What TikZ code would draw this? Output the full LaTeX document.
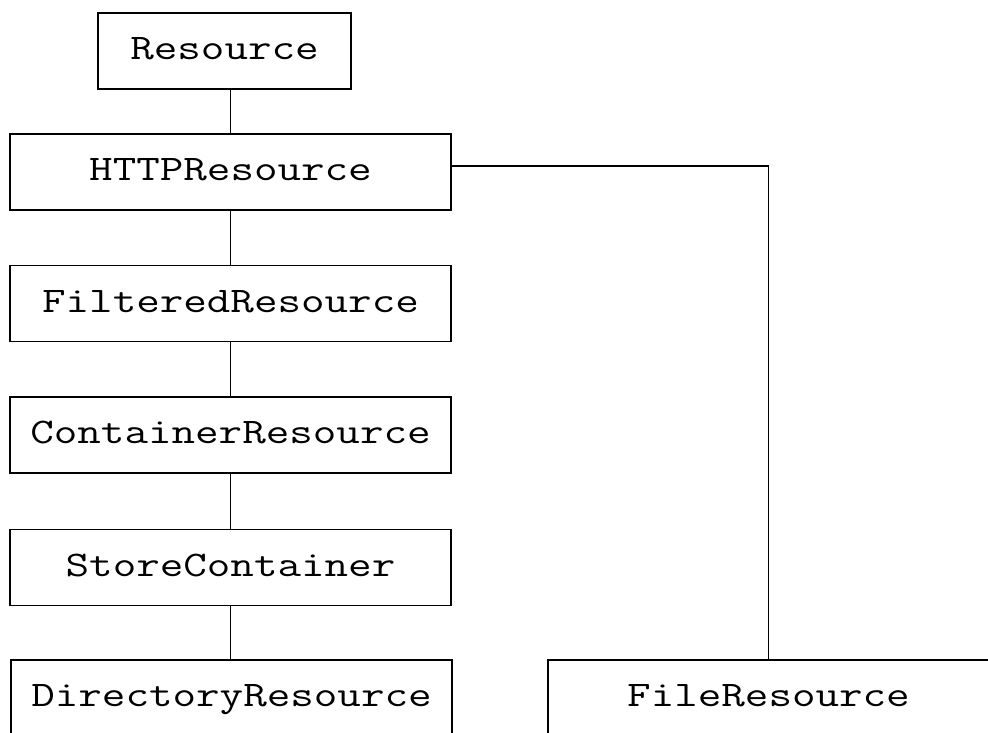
\documentclass[tikz,border=0pt]{standalone}
\usepackage{fontspec}
\usepackage{graphicx}
% widened typewriter class names
\newcommand{\clsname}[1]{\scalebox{1.27}[1]{#1}}
\begin{document}
\begin{tikzpicture}[x=1pt,y=-1pt,
  classbox/.style={draw=black, line width=1.4pt, inner sep=0pt,
    minimum width=441pt, minimum height=76pt,
    font=\ttfamily\fontsize{36}{40}\selectfont,
    text height=24pt, text depth=7pt},
  link/.style={draw=black, line width=1.4pt}]
  \useasboundingbox (0,0) rectangle (988,732);
  \clip (0,0) rectangle (988,732);
  % class hierarchy boxes
  \node[classbox, minimum width=253pt] (res) at (224.5,51) {\clsname{Resource}};
  \node[classbox] (http)  at (230.5,172)   {\clsname{HTTPResource}};
  \node[classbox] (filt)  at (230.5,303.5) {\clsname{FilteredResource}};
  \node[classbox] (cont)  at (230.5,435)   {\clsname{ContainerResource}};
  \node[classbox] (store) at (230.5,567.5) {\clsname{StoreContainer}};
  \node[classbox] (dir)   at (231.5,698)   {\clsname{DirectoryResource}};
  \node[classbox] (file)  at (768.5,698)   {\clsname{FileResource}};
  \coordinate (branch) at ([yshift=6pt]http.east);
  % inheritance lines
  \draw[link] (http.north |- res.south) -- (http.north);
  \draw[link] (http.south) -- (filt.north);
  \draw[link] (filt.south) -- (cont.north);
  \draw[link] (cont.south) -- (store.north);
  \draw[link] (store.south) -- (dir.north -| store.south);
  \draw[link] (branch) -- (file.north |- branch) -- (file.north);
\end{tikzpicture}
\end{document}
